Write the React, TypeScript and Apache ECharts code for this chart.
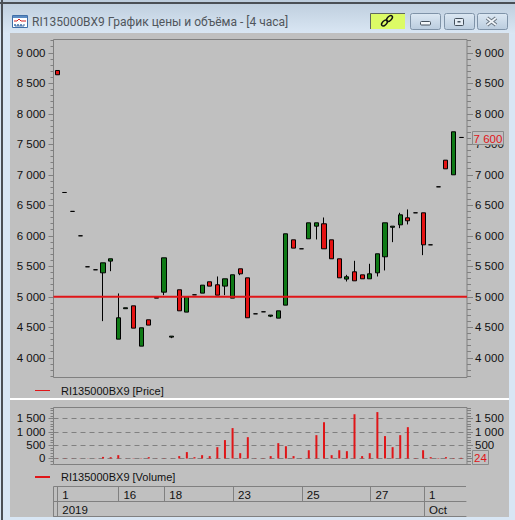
import React, { useEffect, useRef } from "react";
import * as echarts from "echarts";

const titleText = "RI135000BX9 График цены и объёма - [4 часа]";
const priceName = "RI135000BX9 [Price]";
const volumeName = "RI135000BX9 [Volume]";

// [open, close, low, high] – green: close > open, red: close < open
const candles: number[][] = [
  [8710, 8640, 8640, 8710],
  [6710, 6710, 6710, 6710],
  [6400, 6400, 6400, 6400],
  [6000, 6000, 6000, 6000],
  [5492, 5492, 5492, 5492],
  [5443, 5443, 5443, 5443],
  [5393, 5557, 4601, 5557],
  [5585, 5623, 5420, 5623],
  [4306, 4656, 4306, 5055],
  [4805, 4820, 4805, 4820],
  [4852, 4486, 4486, 4852],
  [4191, 4492, 4191, 4492],
  [4623, 4536, 4536, 4623],
  [4990, 4978, 4978, 4990],
  [5076, 5639, 5027, 5639],
  [4339, 4355, 4322, 4355],
  [5115, 4770, 4770, 5115],
  [4749, 5000, 4749, 5000],
  [5033, 5033, 5033, 5033],
  [5060, 5191, 5060, 5191],
  [5246, 5175, 5175, 5246],
  [5197, 5027, 5027, 5333],
  [5175, 5295, 5027, 5295],
  [4978, 5361, 4978, 5361],
  [5459, 5377, 5355, 5459],
  [5311, 4656, 4656, 5311],
  [4721, 4721, 4721, 4721],
  [4754, 4754, 4754, 4754],
  [4683, 4700, 4667, 4700],
  [4650, 4770, 4650, 4770],
  [4863, 6033, 4863, 6033],
  [5934, 5798, 5798, 5934],
  [5787, 5787, 5787, 5787],
  [5951, 6213, 5951, 6213],
  [6158, 6213, 5940, 6213],
  [6197, 5787, 5787, 6300],
  [5934, 5623, 5623, 5934],
  [5623, 5311, 5311, 5623],
  [5290, 5328, 5251, 5360],
  [5410, 5262, 5262, 5590],
  [5360, 5295, 5295, 5360],
  [5295, 5377, 5295, 5541],
  [5393, 5705, 5333, 5705],
  [5656, 6213, 5432, 6213],
  [6140, 6158, 5896, 6158],
  [6180, 6344, 6125, 6377],
  [6295, 6246, 6186, 6432],
  [6377, 6377, 6377, 6377],
  [6377, 5852, 5683, 6377],
  [5852, 5852, 5852, 5852],
  [6803, 6803, 6803, 6803],
  [7240, 7098, 7098, 7240],
  [7000, 7705, 7000, 7705],
  [7612, 7612, 7612, 7612],
];

const volumes: number[] = [
  5, 5, 5, 5, 5, 5, 60, 50, 125, 5, 10, 10, 50, 5, 10, 5, 90, 240, 50, 125, 90, 425, 690, 1140, 200, 800, 10, 10, 90,
  575, 460, 90, 15, 310, 875, 1360, 125, 310, 275, 1660, 90, 200, 1740, 840, 425, 875, 1175, 15, 310, 50, 15, 50, 15,
  24,
];

const categories: string[] = candles.map((_, i) => String(i));
const dayLabels: Record<number, string> = { 0: "1", 8: "16", 14: "18", 23: "23", 32: "25", 41: "27", 48: "1" };
const yearLabels: Record<number, string> = { 0: "2019", 48: "Oct" };
const priceMajor = [4000, 4500, 5000, 5500, 6000, 6500, 7000, 7500, 8000, 8500, 9000];
const volumeMajor = [0, 500, 1000, 1500];
const volumeRightLabels = [500, 1000, 1500];
const levelLine = 5000;
const lastPrice = "7 600";
const lastVolume = "24";

const steps = (a: number, b: number, s: number) => {
  const out: number[] = [];
  for (let v = a; v <= b; v += s) out.push(v);
  return out;
};
const spaced = (v: number) => String(v).replace(/\B(?=(\d{3})+$)/g, " ");

const FONT = "Liberation Sans";
const FS = 11;
const GREY = "#808080";
const PANEL = "#C0C0C0";
const TEXT = "#111111";
const RED = "#E01518";
const LEFT = 53.5;
const PLOT_W = 411.5;
const FRAME_W = 413.5;

const hiddenValueX = (gridIndex: number) => ({
  type: "value",
  gridIndex,
  show: false,
  min: 0,
  max: 1,
});
const hiddenCatX = (gridIndex: number) => ({
  type: "category",
  gridIndex,
  show: false,
  data: categories,
});
const hiddenY = (gridIndex: number, min: number, max: number) => ({
  type: "value",
  gridIndex,
  show: false,
  min,
  max,
});
const labelAxis = (
  gridIndex: number,
  position: string,
  min: number,
  max: number,
  major: number[],
  len: number,
  split: boolean,
  labels: number[] = major,
) => ({
  type: "value",
  gridIndex,
  position,
  min,
  max,
  axisLine: { show: false },
  axisTick: { show: true, length: len, customValues: major, lineStyle: { color: GREY } },
  axisLabel: {
    show: true,
    customValues: labels,
    margin: 8,
    color: TEXT,
    fontFamily: FONT,
    fontSize: 11.5,
    formatter: (v: number) => spaced(v),
  },
  splitLine: split
    ? { show: true, lineStyle: { color: GREY, type: [5, 4], width: 1 } }
    : { show: false },
});
const minorAxis = (gridIndex: number, position: string, min: number, max: number, minor: number[], len: number) => ({
  type: "value",
  gridIndex,
  position,
  min,
  max,
  axisLine: { show: false },
  axisTick: { show: true, length: len, customValues: minor, lineStyle: { color: GREY } },
  axisLabel: { show: false },
  splitLine: { show: false },
});
const stripAxis = (gridIndex: number, labels: Record<number, string>, len: number) => ({
  type: "category",
  gridIndex,
  data: categories,
  axisLine: { show: true, lineStyle: { color: GREY } },
  axisTick: {
    show: true,
    inside: true,
    length: len,
    alignWithLabel: true,
    interval: (i: number) => labels[i] !== undefined,
    lineStyle: { color: GREY },
  },
  axisLabel: {
    show: true,
    inside: true,
    margin: 1,
    align: "left",
    padding: [0, 0, 0, 5],
    color: TEXT,
    fontFamily: FONT,
    fontSize: 11.5,
    interval: (i: number) => labels[i] !== undefined,
    formatter: (_: string, i: number) => labels[i] ?? "",
  },
  splitLine: { show: false },
});

const btnFill = {
  type: "linear",
  x: 0,
  y: 0,
  x2: 0,
  y2: 1,
  colorStops: [
    { offset: 0, color: "#DCE8F3" },
    { offset: 1, color: "#BACCDE" },
  ],
};
const button = (x: number) => ({
  type: "rect",
  z: 5,
  shape: { x: x + 0.5, y: 13.5, width: 30, height: 16, r: 2 },
  style: { fill: btnFill, stroke: "#7F93A8", lineWidth: 1 },
});

const chrome: any[] = [
  // window background
  { type: "rect", z: -20, shape: { x: 0, y: 0, width: 515, height: 520 }, style: { fill: "#D8E6F4" } },
  {
    type: "rect",
    z: -19,
    shape: { x: 0, y: 0, width: 515, height: 34 },
    style: {
      fill: {
        type: "linear",
        x: 0,
        y: 0,
        x2: 0,
        y2: 1,
        colorStops: [
          { offset: 0, color: "#BCCCDC" },
          { offset: 1, color: "#DAE7F4" },
        ],
      },
    },
  },
  { type: "rect", z: -18, shape: { x: 10, y: 33, width: 499, height: 484 }, style: { fill: PANEL } },
  { type: "rect", z: -17, shape: { x: 10, y: 398, width: 499, height: 2 }, style: { fill: "#FFFFFF" } },
  { type: "rect", z: -16, shape: { x: 0, y: 2, width: 515, height: 2 }, style: { fill: "#4A4F55" } },
  { type: "rect", z: -16, shape: { x: 1, y: 0, width: 2, height: 520 }, style: { fill: "#4A4F55" } },
  // title icon
  { type: "rect", z: 5, shape: { x: 12.5, y: 15.5, width: 15, height: 12 }, style: { fill: "#FFFFFF", stroke: "#3F6FA8" } },
  { type: "rect", z: 5, shape: { x: 13, y: 16, width: 14, height: 2 }, style: { fill: "#5B8CC4" } },
  {
    type: "polyline",
    z: 6,
    shape: { points: [[14, 21], [17, 21], [19, 19], [21, 21], [26, 21]] },
    style: { fill: "none", stroke: "#D02020", lineWidth: 1 },
  },
  {
    type: "polyline",
    z: 6,
    shape: { points: [[15, 26], [15, 24], [15, 26], [18, 26], [18, 24], [18, 26], [21, 26], [21, 24], [21, 26], [24, 26], [24, 24]] },
    style: { fill: "none", stroke: "#3F6FA8", lineWidth: 1 },
  },
  {
    type: "text",
    z: 5,
    x: 32,
    y: 22,
    style: { text: titleText, fill: "#50565C", font: "12px 'Roboto'", verticalAlign: "middle", align: "left" },
  },
  // link button
  { type: "rect", z: 5, shape: { x: 370, y: 13, width: 35, height: 16 }, style: { fill: "#DCFB66" } },
  { type: "polyline", z: 6, shape: { points: [[370.5, 29], [370.5, 13.5], [405, 13.5]] }, style: { fill: "none", stroke: "#606860" } },
  {
    type: "ellipse",
    z: 6,
    x: 384.5,
    y: 23,
    rotation: Math.PI / 4,
    shape: { cx: 0, cy: 0, rx: 3.6, ry: 2 },
    style: { fill: "none", stroke: "#111111", lineWidth: 1.4 },
  },
  {
    type: "ellipse",
    z: 6,
    x: 389.5,
    y: 18.5,
    rotation: Math.PI / 4,
    shape: { cx: 0, cy: 0, rx: 3.6, ry: 2 },
    style: { fill: "none", stroke: "#111111", lineWidth: 1.4 },
  },
  // window buttons
  button(410),
  button(444),
  button(477),
  { type: "rect", z: 6, shape: { x: 420.5, y: 21.5, width: 10, height: 3.5, r: 1 }, style: { fill: "#F4F8FB", stroke: "#44505C" } },
  { type: "rect", z: 6, shape: { x: 454.5, y: 18.5, width: 9, height: 7, r: 1 }, style: { fill: "#E4ECF4", stroke: "#44505C" } },
  { type: "rect", z: 7, shape: { x: 457.5, y: 21, width: 3, height: 1.5 }, style: { fill: "#44505C" } },
  { type: "line", z: 6, shape: { x1: 487, y1: 18, x2: 496, y2: 25 }, style: { stroke: "#66727E", lineWidth: 3.6 } },
  { type: "line", z: 6, shape: { x1: 496, y1: 18, x2: 487, y2: 25 }, style: { stroke: "#66727E", lineWidth: 3.6 } },
  { type: "line", z: 7, shape: { x1: 487, y1: 18, x2: 496, y2: 25 }, style: { stroke: "#EEF3F8", lineWidth: 1.8 } },
  { type: "line", z: 7, shape: { x1: 496, y1: 18, x2: 487, y2: 25 }, style: { stroke: "#EEF3F8", lineWidth: 1.8 } },
  // strip frame
  { type: "line", z: 3, shape: { x1: 53.5, y1: 486.5, x2: 466, y2: 486.5 }, style: { stroke: GREY } },
  { type: "line", z: 3, shape: { x1: 53.5, y1: 486.5, x2: 53.5, y2: 516.5 }, style: { stroke: GREY } },
  // last value boxes
  { type: "rect", z: 20, shape: { x: 472.5, y: 131.5, width: 31, height: 13 }, style: { fill: PANEL, stroke: "#8A8A8A" } },
  {
    type: "text",
    z: 21,
    x: 488,
    y: 138.5,
    style: { text: lastPrice, fill: RED, font: `11.5px '${FONT}'`, align: "center", verticalAlign: "middle" },
  },
  { type: "rect", z: 20, shape: { x: 472.5, y: 450.5, width: 16, height: 14 }, style: { fill: PANEL, stroke: "#8A8A8A" } },
  {
    type: "text",
    z: 21,
    x: 480.5,
    y: 458,
    style: { text: lastVolume, fill: RED, font: `11.5px '${FONT}'`, align: "center", verticalAlign: "middle" },
  },
];

const P_MIN = 3677;
const P_MAX = 9218;
const V_MIN = -225;
const V_MAX = 1912;

export default function App() {
  const ref = useRef<HTMLDivElement>(null);
  useEffect(() => {
    const chart = echarts.init(ref.current!, undefined, { renderer: "svg" });
    chart.setOption({
      animation: false,
      graphic: { elements: chrome },
      legend: [
        {
          data: [priceName],
          left: 35,
          top: 385,
          itemWidth: 15,
          itemHeight: 1,
          itemGap: 0,
          icon: "rect",
          textStyle: { color: TEXT, fontFamily: FONT, fontSize: FS, padding: [0, 0, 0, 6] },
          selectedMode: false,
          padding: 0,
        },
        {
          data: [volumeName],
          left: 35,
          top: 471.5,
          itemWidth: 15,
          itemHeight: 2,
          itemGap: 0,
          icon: "rect",
          textStyle: { color: TEXT, fontFamily: FONT, fontSize: FS, padding: [0, 0, 0, 6] },
          selectedMode: false,
          padding: 0,
        },
      ],
      grid: [
        { left: LEFT, top: 39.5, width: PLOT_W, height: 338 },
        { left: LEFT, top: 39.5, width: FRAME_W, height: 338, show: true, borderColor: GREY, borderWidth: 1, backgroundColor: "transparent" },
        { left: LEFT, top: 407.5, width: PLOT_W, height: 57 },
        { left: LEFT, top: 407.5, width: FRAME_W, height: 57, show: true, borderColor: GREY, borderWidth: 1, backgroundColor: "transparent" },
        { left: LEFT, top: 486.5, width: PLOT_W + 1, height: 15 },
        { left: LEFT, top: 501.5, width: PLOT_W + 1, height: 15 },
      ],
      xAxis: [
        hiddenCatX(0),
        hiddenValueX(1),
        hiddenCatX(2),
        hiddenValueX(3),
        stripAxis(4, dayLabels, 15),
        stripAxis(5, yearLabels, 15),
      ],
      yAxis: [
        hiddenY(0, P_MIN, P_MAX),
        labelAxis(1, "left", P_MIN, P_MAX, priceMajor, 5, false),
        labelAxis(1, "right", P_MIN, P_MAX, priceMajor, 6, false),
        minorAxis(1, "left", P_MIN, P_MAX, steps(3700, 9200, 100), 3),
        minorAxis(1, "right", P_MIN, P_MAX, steps(3700, 9200, 100), 4),
        hiddenY(2, V_MIN, V_MAX),
        labelAxis(3, "left", V_MIN, V_MAX, volumeMajor, 5, true),
        labelAxis(3, "right", V_MIN, V_MAX, volumeMajor, 6, false, volumeRightLabels),
        minorAxis(3, "left", V_MIN, V_MAX, steps(-200, 1900, 100), 3),
        minorAxis(3, "right", V_MIN, V_MAX, steps(-200, 1900, 100), 4),
        hiddenY(4, 0, 1),
        hiddenY(5, 0, 1),
      ],
      series: [
        {
          type: "candlestick",
          name: "candles",
          xAxisIndex: 0,
          yAxisIndex: 0,
          data: candles,
          barWidth: 4.6,
          itemStyle: {
            color: "#0F7A16",
            color0: "#E41212",
            borderColor: "#000000",
            borderColor0: "#000000",
            borderColorDoji: "#000000",
            borderWidth: 1,
          },
          z: 3,
        },
        {
          type: "line",
          name: priceName,
          xAxisIndex: 1,
          yAxisIndex: 1,
          data: [
            [0, levelLine],
            [1, levelLine],
          ],
          symbol: "none",
          lineStyle: { color: RED, width: 2 },
          itemStyle: { color: RED },
          z: 5,
        },
        {
          type: "bar",
          name: volumeName,
          xAxisIndex: 2,
          yAxisIndex: 5,
          data: volumes,
          barWidth: 2,
          itemStyle: { color: RED },
          z: 3,
        },
      ],
    });
    return () => chart.dispose();
  }, []);
  return <div ref={ref} style={{ position: "absolute", left: 0, top: 0, width: 515, height: 520 }} />;
}
